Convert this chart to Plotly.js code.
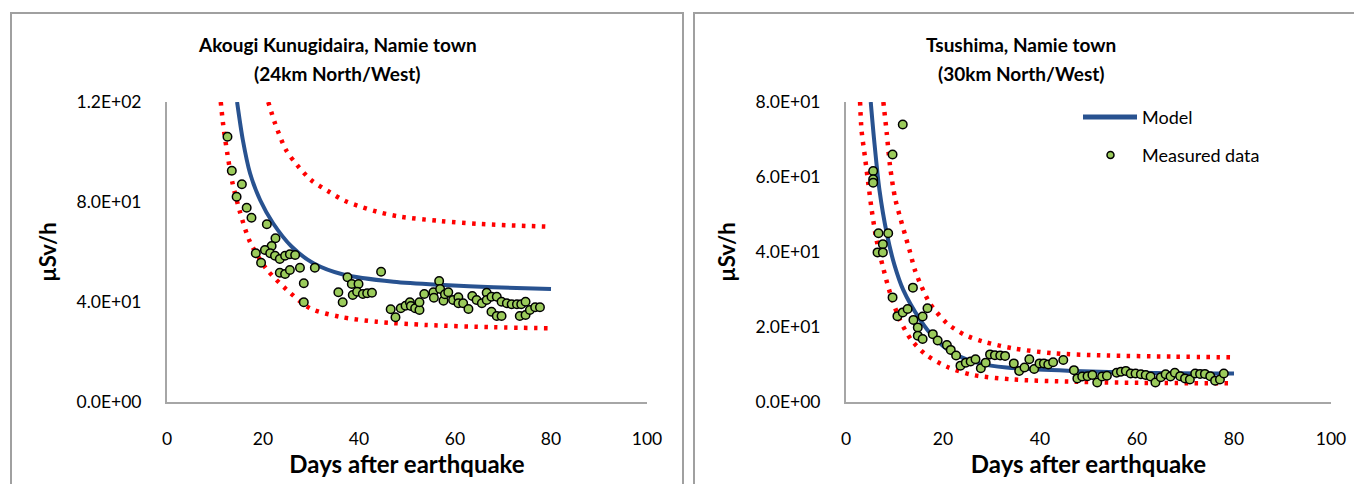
<!DOCTYPE html>
<html>
<head>
<meta charset="utf-8">
<script src="https://cdn.plot.ly/plotly-3.0.1.min.js"></script>
<style>html,body{margin:0;padding:0;background:#fff;}#chart{width:1354px;height:484px;}</style>
</head>
<body>
<div id="chart"></div>
<script>
// ---------- Left panel: Akougi Kunugidaira ----------
const leftTitle = ["Akougi Kunugidaira, Namie town", "(24km North/West)"];
const leftModelDays = [14.6, 15.8, 17.3, 19.4, 22.1, 26.0, 30.5, 36.7, 47.2, 57.6, 68.0, 80.0];
const leftModelVals = [120, 104.8, 91.5, 80.8, 71.5, 62.1, 55.5, 51.0, 48.1, 46.8, 45.9, 45.2];
const leftUpperDays = [21.1, 22.5, 24.8, 27.1, 30.0, 33.5, 37.1, 40.7, 44.6, 48.7, 56.9, 65.2, 79.8];
const leftUpperVals = [120, 111.5, 100.8, 94.8, 88.8, 84.4, 80.4, 77.9, 75.7, 74.1, 72.4, 71.2, 70.1];
const leftLowerDays = [11.2, 11.7, 12.6, 13.6, 15.2, 17.3, 20.8, 24.9, 29.8, 36.0, 43.7, 54.1, 68.0, 80.0];
const leftLowerVals = [120, 111, 99, 88, 76, 64, 53, 45, 37.5, 34.1, 32.1, 30.8, 29.9, 29.5];
const leftMeasDays = [12.6, 13.5, 15.6, 14.5, 16.6, 17.6, 20.8, 22.6, 21.8, 20.4, 21.5, 22.5, 23.5, 24.6, 25.6, 26.7,
  18.5, 19.6, 23.5, 24.6, 25.6, 27.7, 28.5, 28.5, 30.8, 35.7, 36.6, 37.6, 38.5, 39.9, 38.7, 39.6, 40.8, 41.7, 42.7,
  44.6, 46.6, 47.6, 48.7, 49.7, 50.6, 50.8, 51.7, 52.6, 52.6, 53.6, 55.5, 55.6, 56.7, 56.9, 57.6, 57.9, 58.6, 59.6,
  60.7, 60.7, 61.7, 62.8, 63.6, 64.5, 65.6, 66.6, 66.6, 67.6, 67.6, 68.7, 68.7, 69.7, 69.7, 70.8, 71.8, 72.9, 73.5,
  73.8, 74.7, 74.7, 75.6, 76.7, 77.7];
const leftMeasVals = [106.1, 92.5, 87.1, 82.1, 77.7, 73.7, 71.1, 65.5, 62.4, 60.8, 59.5, 58.5, 57.2, 58.5, 59.1, 58.8,
  59.5, 55.7, 51.7, 51.2, 52.8, 53.7, 47.5, 39.9, 53.7, 43.9, 39.9, 49.9, 47.2, 47.2, 42.8, 44.1, 43.2, 43.5, 43.7,
  52.1, 37.1, 33.9, 37.5, 38.5, 39.9, 38.4, 37.5, 36.8, 39.9, 43.2, 43.9, 41.7, 48.4, 45.2, 40.5, 43.1, 43.9, 40.8,
  41.9, 39.5, 39.5, 37.2, 42.4, 40.8, 39.5, 43.7, 40.8, 42.1, 36.1, 42.1, 34.4, 34.4, 40.1, 39.5, 39.1, 39.1, 34.4,
  39.1, 40.1, 34.8, 36.8, 37.9, 37.9];
const leftYTicks = [0, 40, 80, 120];
const leftYTickText = ["0.0E+00", "4.0E+01", "8.0E+01", "1.2E+02"];

// ---------- Right panel: Tsushima ----------
const rightTitle = ["Tsushima, Namie town", "(30km North/West)"];
const rightModelDays = [5.1, 5.8, 6.9, 8.4, 10.0, 11.8, 15.3, 18.0, 22.1, 27.6, 33.1, 46.9, 60.6, 80.0];
const rightModelVals = [80, 69.9, 56.5, 45.0, 36.5, 29.9, 21.9, 17.4, 13.0, 10.3, 9.2, 8.3, 7.8, 7.6];
const rightUpperDays = [7.7, 8.4, 9.1, 10.1, 11.1, 12.2, 13.2, 14.2, 15.6, 17.3, 20.8, 24.5, 28.3, 34.5, 42.7, 53.8, 67.5, 80.0];
const rightUpperVals = [80, 71.7, 62.7, 54.5, 49.5, 44.5, 40.0, 35.2, 30.7, 26.3, 21.0, 17.9, 16.1, 14.3, 13.0, 12.4, 12.1, 11.9];
const rightLowerDays = [2.9, 3.2, 3.9, 4.6, 5.3, 6.3, 7.7, 9.1, 11.1, 13.5, 16.6, 20.8, 26.2, 34.5, 46.9, 60.6, 80.0];
const rightLowerVals = [80, 72.5, 65.4, 58.3, 51.2, 43.2, 35.6, 29.0, 21.9, 16.5, 12.5, 9.4, 7.2, 6.0, 5.4, 5.1, 5.0];
const rightMeasDays = [11.7, 9.6, 5.6, 5.6, 5.6, 6.7, 8.7, 7.6, 6.5, 7.6, 13.8, 9.6, 10.6, 11.7, 12.7, 13.9, 14.8, 14.8,
  15.8, 15.8, 16.8, 17.9, 18.9, 20.8, 21.6, 22.7, 23.6, 24.7, 25.7, 26.7, 27.8, 28.8, 29.7, 30.7, 31.8, 32.8, 34.6,
  35.7, 36.8, 37.8, 38.8, 39.9, 40.8, 41.7, 42.7, 44.8, 47.0, 47.7, 48.7, 49.8, 50.8, 51.8, 52.8, 53.8, 55.8, 56.7,
  57.7, 58.7, 59.7, 60.8, 61.8, 62.8, 63.8, 64.9, 65.9, 66.9, 67.8, 68.9, 69.9, 70.9, 72.0, 73.0, 74.0, 75.1, 76.1,
  77.1, 77.9];
const rightMeasVals = [74.0, 66.0, 61.6, 59.4, 58.5, 45.0, 45.0, 42.1, 39.9, 39.9, 30.5, 27.9, 22.9, 23.9, 24.8, 21.9, 19.9, 17.7,
  16.8, 22.8, 25.0, 18.1, 16.4, 15.2, 13.9, 12.4, 9.7, 10.5, 10.8, 11.4, 9.0, 10.5, 12.7, 12.5, 12.4, 12.3, 10.3,
  8.3, 9.2, 11.4, 8.8, 10.3, 10.3, 10.0, 10.6, 11.2, 8.5, 6.3, 6.8, 6.9, 7.2, 5.2, 6.8, 7.0, 7.8, 8.1,
  8.3, 7.6, 7.6, 7.4, 7.2, 6.8, 5.2, 6.6, 7.4, 6.8, 7.8, 6.9, 6.3, 6.0, 7.6, 7.5, 7.5, 6.9, 5.7,
  6.0, 7.6];
const rightYTicks = [0, 20, 40, 60, 80];
const rightYTickText = ["0.0E+00", "2.0E+01", "4.0E+01", "6.0E+01", "8.0E+01"];

const xTicks = [0, 20, 40, 60, 80, 100];
const legendLabels = ["Model", "Measured data"];
const xTitle = "Days after earthquake";
const yTitle = "µSv/h";

// ---------- styles ----------
const FONT = "Lato, Carlito, Calibri, 'Open Sans', sans-serif";
const BLUE = "#285290";
const RED = "#FF0000";
const GREEN = "#9BCB5B";
const GRAY = "#A6A6A6";
const W = 1354, H = 484;
const px = v => v / W;
const py = v => 1 - v / H;

function bandTrace(x, y, xa, ya) {
  return {x, y, xaxis: xa, yaxis: ya, type: "scatter", mode: "lines", showlegend: false, hoverinfo: "skip",
    line: {color: RED, width: 4.5, dash: "3.5px,6.5px", shape: "spline", smoothing: 0.8}};
}
function modelTrace(x, y, xa, ya, name) {
  return {x, y, xaxis: xa, yaxis: ya, type: "scatter", mode: "lines", name, showlegend: false,
    line: {color: BLUE, width: 4, shape: "spline", smoothing: 0.8}};
}
function measTrace(x, y, xa, ya, name) {
  return {x, y, xaxis: xa, yaxis: ya, type: "scatter", mode: "markers", name, showlegend: false,
    marker: {color: GREEN, size: 8.5, line: {color: "#000", width: 1.5}}};
}

const data = [
  bandTrace(leftUpperDays, leftUpperVals, "x", "y"),
  bandTrace(leftLowerDays, leftLowerVals, "x", "y"),
  modelTrace(leftModelDays, leftModelVals, "x", "y", legendLabels[0]),
  measTrace(leftMeasDays, leftMeasVals, "x", "y", legendLabels[1]),
  bandTrace(rightUpperDays, rightUpperVals, "x2", "y2"),
  bandTrace(rightLowerDays, rightLowerVals, "x2", "y2"),
  modelTrace(rightModelDays, rightModelVals, "x2", "y2", legendLabels[0]),
  measTrace(rightMeasDays, rightMeasVals, "x2", "y2", legendLabels[1])
];

function xAxis(domain, anchor) {
  return {domain, anchor, range: [0, 100], tickvals: xTicks, ticktext: xTicks.map(String),
    showline: true, linecolor: GRAY, linewidth: 2, showgrid: false, zeroline: false, ticks: "",
    ticklabelstandoff: 20, tickfont: {family: FONT, size: 17.5, color: "#000"},
    title: {text: "<b>" + xTitle + "</b>", font: {family: FONT, size: 24, color: "#000"}, standoff: 4},
    fixedrange: true};
}
function yAxis(range, vals, text, anchor) {
  return {domain: [py(402), py(102)], anchor, range, tickvals: vals, ticktext: text,
    showline: true, linecolor: GRAY, linewidth: 2, showgrid: false, zeroline: false, ticks: "",
    ticklabelstandoff: 20, tickfont: {family: FONT, size: 17.5, color: "#000"},
    title: {text: "<b>" + yTitle + "</b>", font: {family: FONT, size: 22, color: "#000"}, standoff: 14},
    fixedrange: true};
}

const titleFont = {family: FONT, size: 19, color: "#000"};
const annotations = [
  {text: "<b>" + leftTitle[0] + "</b>", x: px(337), y: py(45), xref: "paper", yref: "paper", showarrow: false, font: titleFont, xanchor: "center", yanchor: "middle"},
  {text: "<b>" + leftTitle[1] + "</b>", x: px(337), y: py(73), xref: "paper", yref: "paper", showarrow: false, font: titleFont, xanchor: "center", yanchor: "middle"},
  {text: "<b>" + rightTitle[0] + "</b>", x: px(1021), y: py(45), xref: "paper", yref: "paper", showarrow: false, font: titleFont, xanchor: "center", yanchor: "middle"},
  {text: "<b>" + rightTitle[1] + "</b>", x: px(1021), y: py(73), xref: "paper", yref: "paper", showarrow: false, font: titleFont, xanchor: "center", yanchor: "middle"},
  {text: legendLabels[0], x: px(1140), y: py(117), xref: "paper", yref: "paper", showarrow: false, font: {family: FONT, size: 18, color: "#000"}, xanchor: "left", yanchor: "middle"},
  {text: legendLabels[1], x: px(1140), y: py(155), xref: "paper", yref: "paper", showarrow: false, font: {family: FONT, size: 18, color: "#000"}, xanchor: "left", yanchor: "middle"}
];

const shapes = [
  {type: "rect", xref: "paper", yref: "paper", x0: px(11), x1: px(683), y0: -0.1, y1: py(13), line: {color: "#A0A0A0", width: 2}, layer: "below"},
  {type: "rect", xref: "paper", yref: "paper", x0: px(694), x1: 1.05, y0: -0.1, y1: py(13), line: {color: "#A0A0A0", width: 2}, layer: "below"},
  // legend symbols
  {type: "line", xref: "paper", yref: "paper", x0: px(1083), x1: px(1137), y0: py(117), y1: py(117), line: {color: BLUE, width: 5}},
  {type: "circle", xref: "paper", yref: "paper", x0: px(1107), x1: px(1114), y0: py(158.5), y1: py(151.5), fillcolor: GREEN, line: {color: "#000", width: 1.5}}
];

const layout = {
  width: W, height: H,
  margin: {l: 0, r: 0, t: 0, b: 0},
  paper_bgcolor: "#fff", plot_bgcolor: "rgba(0,0,0,0)",
  showlegend: false,
  font: {family: FONT, color: "#000"},
  xaxis: xAxis([px(167), px(647)], "y"),
  yaxis: yAxis([0, 120], leftYTicks, leftYTickText, "x"),
  xaxis2: xAxis([px(846), px(1331)], "y2"),
  yaxis2: yAxis([0, 80], rightYTicks, rightYTickText, "x2"),
  annotations, shapes
};

Plotly.newPlot("chart", data, layout, {staticPlot: true, displayModeBar: false});
</script>
</body>
</html>
